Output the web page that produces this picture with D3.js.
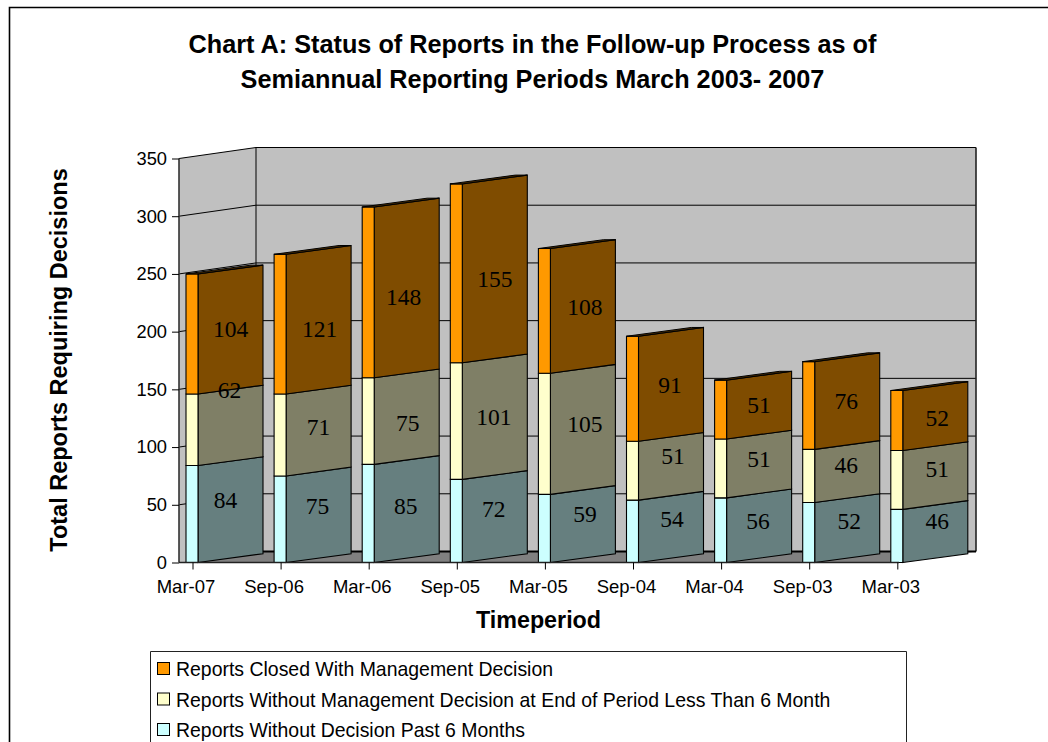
<!DOCTYPE html>
<html><head><meta charset="utf-8">
<script src="https://cdn.jsdelivr.net/npm/d3@7/dist/d3.min.js"></script>
<style>html,body{margin:0;padding:0;background:#fff}svg{display:block}text{font-family:"Liberation Sans",Arial,sans-serif;fill:#000}</style>
</head><body><svg id="c" width="1048" height="742"></svg>
<script>
const categories=["Mar-07","Sep-06","Mar-06","Sep-05","Mar-05","Sep-04","Mar-04","Sep-03","Mar-03"];
const pastSixMonths=[84,75,85,72,59,54,56,52,46];
const withoutDecision=[62,71,75,101,105,51,51,46,51];
const closedWithDecision=[104,121,148,155,108,91,51,76,52];
const yTicks=[0,50,100,150,200,250,300,350];
const legendLabels=["Reports Closed With Management Decision","Reports Without Management Decision at End of Period Less Than 6 Month","Reports Without Decision Past 6 Months"];
const titleLines=["Chart A: Status of Reports in the Follow-up Process as of","Semiannual Reporting Periods March 2003- 2007"];

// label nudges from the face centre (layout only)
const nudgeClosed=[[0,-1],[1,9],[-3,9],[0,10],[2,0],[-1,0],[0,0],[-1,0],[2,2]];
const nudgeWithout=[[-1,-36],[0,-4],[1,6],[-1,0],[2,-6],[2,-11],[0,-5],[-1,-7],[2,-7]];
const nudgePast=[[-5,-10],[-1,-9],[-1,-3],[-1,-8],[2,-10],[1,-8],[-1,-5],[2,-7],[2,-11]];

const svg=d3.select("#c");
const x=d3.scaleBand().domain(categories).range([186,186+88.1*9]).paddingInner(0).paddingOuter(0);
const y=d3.scaleLinear().domain([0,350]).range([562.5,158.5]);
const depthX=77,depthY=-11;      // wall depth
const frontW=12,barDX=65,barDY=-8.8; // bar geometry
const wallRight=976;
const left=179;
const poly=(pts,fill,stroke,sw)=>svg.append("polygon").attr("points",pts.map(p=>p.join(",")).join(" ")).attr("fill",fill).attr("stroke",stroke||"none").attr("stroke-width",sw||0);

// frame
svg.append("path").attr("d","M9.5,742V7.5H1048").attr("fill","none").attr("stroke","#000").attr("stroke-width",1.6);

// title
svg.append("g").selectAll("text").data(titleLines).join("text").attr("x",532.5).attr("y",(d,i)=>53+i*35).attr("text-anchor","middle").attr("font-size",25.25).attr("font-weight","bold").text(d=>d);

// walls + floor
const y0=y(0),yT=y(350);
poly([[left,y0],[left,yT],[left+depthX,yT+depthY],[left+depthX,y0+depthY]],"#c0c0c0");
poly([[left+depthX,yT+depthY],[wallRight,yT+depthY],[wallRight,y0+depthY],[left+depthX,y0+depthY]],"#c0c0c0");
poly([[left,y0],[left+depthX,y0+depthY],[wallRight,y0+depthY],[wallRight-depthX,y0]],"#808080");

// gridlines
const grid=svg.append("g").attr("fill","none").attr("stroke","#000").attr("stroke-width",1);
yTicks.forEach(t=>{
  const yy=y(t);
  if(t>0) grid.append("path").attr("d",`M${left},${yy}L${left+depthX},${yy+depthY}L${wallRight},${yy+depthY}`);
});
grid.append("path").attr("d",`M${left+depthX},${yT+depthY}V${y0+depthY}`);
grid.append("path").attr("d",`M${wallRight},${yT+depthY}V${y0+depthY}`).attr("stroke","#222").attr("stroke-width",1.6);
grid.append("path").attr("d",`M${left+depthX},${y0+depthY}H${wallRight}`).attr("stroke-width",2);

// stacked bars
const seriesList=[
 {v:pastSixMonths,front:"#ccffff",side:"#667f7f",nudge:nudgePast},
 {v:withoutDecision,front:"#ffffcc",side:"#7f7f66",nudge:nudgeWithout},
 {v:closedWithDecision,front:"#ff9900",side:"#7f4c00",nudge:nudgeClosed}
];
const totals=categories.map((c,i)=>seriesList.reduce((s,d)=>s+d.v[i],0));
const lbl=[];
categories.forEach((c,i)=>{
  const xL=x(c),xF=xL+frontW,xR=xF+barDX;
  let base=0;
  seriesList.forEach(s=>{
    const a=y(base),b=y(base+s.v[i]);
    poly([[xF,a],[xR,a+barDY],[xR,b+barDY],[xF,b]],s.side,"#000",1.1);
    poly([[xL,a],[xF,a],[xF,b],[xL,b]],s.front,"#000",1.1);
    lbl.push({t:s.v[i],x:(xF+xR)/2+s.nudge[i][0],y:(a+b)/2+barDY/2+s.nudge[i][1]});
    base+=s.v[i];
  });
  const top=y(totals[i]);
  poly([[xL,top],[xF,top],[xR,top+barDY],[xR-frontW,top+barDY]],"#4d2e00","#000",1);
});
svg.append("g").selectAll("text").data(lbl).join("text").attr("x",d=>d.x).attr("y",d=>d.y).attr("dy","0.35em")
 .attr("text-anchor","middle").style("font-family","'Liberation Serif','Times New Roman',serif").attr("font-size",23.5).text(d=>d.t);

// y axis
const ax=svg.append("g").attr("transform",`translate(${left},0)`).call(d3.axisLeft(y).tickValues(yTicks).tickSize(7).tickPadding(5).tickFormat(d3.format("d")));
ax.select(".domain").attr("stroke","#333").attr("stroke-width",1.6).attr("d",`M0,${y0}V${yT}`);
ax.selectAll("text").attr("font-size",18.3).style("font-family","'Liberation Sans',Arial,sans-serif");
ax.selectAll("line").attr("stroke","#000");

// x axis: floor front edge, ticks and labels
svg.append("path").attr("d",`M${left},${y0}H${wallRight-depthX}`).attr("stroke","#222").attr("stroke-width",1.6).attr("fill","none");
const xa=svg.append("g");
xa.selectAll("line").data(categories).join("line").attr("x1",c=>x(c)+7).attr("x2",c=>x(c)+7).attr("y1",y0).attr("y2",y0+7).attr("stroke","#000");
xa.selectAll("text").data(categories).join("text").attr("x",c=>x(c)).attr("y",y0+30.5).attr("text-anchor","middle").attr("font-size",18.5).text(c=>c);

// axis titles
svg.append("text").attr("x",538.5).attr("y",628).attr("text-anchor","middle").attr("font-size",23.3).attr("font-weight","bold").text("Timeperiod");
svg.append("text").attr("transform","translate(66.5,360) rotate(-90)").attr("text-anchor","middle").attr("font-size",23.5).attr("font-weight","bold").text("Total Reports Requiring Decisions");

// legend
svg.append("path").attr("d","M150.5,742V651.5H906.5V742").attr("fill","#fff").attr("stroke","#222");
const swatches=["#ff9900","#ffffcc","#ccffff"];
const lg=svg.append("g").selectAll("g").data(legendLabels).join("g").attr("transform",(d,i)=>`translate(0,${670+i*30.5})`);
lg.append("rect").attr("x",157.5).attr("y",-7.5).attr("width",12).attr("height",12).attr("fill",(d,i)=>swatches[i]).attr("stroke","#000");
lg.append("text").attr("x",176).attr("y",6).attr("font-size",19.45).text(d=>d);
</script></body></html>
